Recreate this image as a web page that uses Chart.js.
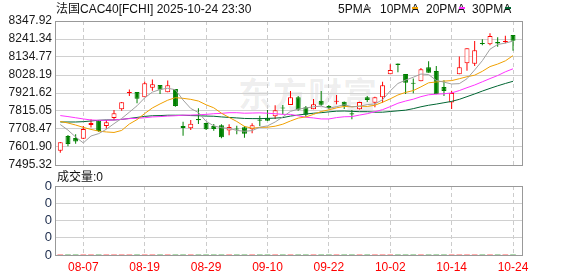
<!DOCTYPE html>
<html>
<head>
<meta charset="utf-8">
<script src="https://cdn.jsdelivr.net/npm/chart.js@4.4.1/dist/chart.umd.min.js"></script>
<style>
  html, body { margin: 0; padding: 0; background: #fff; }
  #wrap { position: relative; width: 578px; height: 276px; overflow: hidden; font-family: "Liberation Sans", "Noto Sans CJK SC", sans-serif; }
  canvas { position: absolute; left: 0; top: 0; }
  .t { position: absolute; white-space: nowrap; font-size: 12px; line-height: 12px; color: #111; }
  .lg { position: absolute; top: 3px; font-family: "Liberation Sans Narrow", "Liberation Sans", sans-serif; font-size: 12px; line-height: 12px; color: #111; }
  .mk { position: absolute; top: 7px; width: 6px; height: 2px; }
  .wm { position: absolute; left: 238px; top: 68px; font-family: "Noto Sans CJK SC", sans-serif; font-size: 34px; font-weight: bold; letter-spacing: 1px; color: rgba(0,0,0,0.07); }
</style>
</head>
<body>
<div id="wrap">
  <div class="wm">东方财富</div>
  <canvas id="main" width="578" height="276"></canvas>
  <canvas id="vol" width="578" height="276"></canvas>
  <div class="t" style="left:56px;top:3px;">法国CAC40[FCHI] 2025-10-24 23:30</div>
  <div class="lg" style="left:338px;">5PMA</div><div class="mk" style="left:365px;background:#a0a0a0;"></div>
  <div class="lg" style="left:380px;">10PMA</div><div class="mk" style="left:412px;background:#f0a000;"></div>
  <div class="lg" style="left:426px;">20PMA</div><div class="mk" style="left:459px;background:#ff33ff;"></div>
  <div class="lg" style="left:472px;">30PMA</div><div class="mk" style="left:505px;background:#006633;"></div>
  <div class="t" style="left:57px;top:171px;">成交量:0</div>
</div>
<script>
// trading days shown, 08-04 .. 10-24
const dates = ['08-04','08-05','08-06','08-07','08-08','08-11','08-12','08-13','08-14','08-15',
  '08-18','08-19','08-20','08-21','08-22','08-25','08-26','08-27','08-28','08-29',
  '09-01','09-02','09-03','09-04','09-05','09-08','09-09','09-10','09-11','09-12',
  '09-15','09-16','09-17','09-18','09-19','09-22','09-23','09-24','09-25','09-26',
  '09-29','09-30','10-01','10-02','10-03','10-06','10-07','10-08','10-09','10-10',
  '10-13','10-14','10-15','10-16','10-17','10-20','10-21','10-22','10-23','10-24'];
const tickDates = ['08-07','08-19','08-29','09-10','09-22','10-02','10-14','10-24'];
const priceTicks = [8347.92, 8241.34, 8134.77, 8028.19, 7921.62, 7815.05, 7708.47, 7601.90, 7495.32];

const open  = [7580,7667,7655,7651,7732,7758,7726,7774,7825,7922, 7927,7896,7953,7969,7926,7945,7726,7713,7767,7744,
               7726,7730,7700,7712,7719,7707,7764,7775,7784,7836, 7851,7896,7837,7825,7876,7845,7870,7870,7801,7825,
               7896,7864,7896,8032,8097,8034,7982,7991,8074,8052, 7957,7866,8032,8098,8095,8218,8210,8224,8224,8265];
const high  = [7632,7673,7677,7726,7766,7762,7762,7821,7868,7943, 7927,7989,8002,7969,7996,7945,7752,7762,7831,7746,
               7738,7736,7736,7728,7726,7742,7787,7821,7849,7851, 7933,7904,7845,7886,7933,7849,7910,7872,7821,7870,
               7904,7900,7988,8092,8097,8034,8008,8070,8109,8081, 7997,7935,8137,8186,8229,8240,8275,8251,8261,8265];
const low   = [7568,7607,7621,7649,7718,7691,7710,7762,7817,7904, 7861,7896,7935,7916,7926,7840,7669,7702,7738,7702,
               7698,7653,7671,7677,7657,7683,7726,7756,7768,7796, 7851,7817,7781,7825,7846,7825,7855,7827,7766,7824,
               7868,7837,7864,8032,8044,7916,7920,7991,8042,7914, 7904,7827,8032,8054,8081,8204,8204,8196,8216,8172];
const close = [7630,7620,7635,7708,7744,7697,7748,7801,7867,7928, 7888,7979,7973,7941,7967,7845,7714,7740,7761,7707,
               7708,7659,7720,7706,7681,7730,7758,7758,7819,7830, 7896,7823,7793,7855,7852,7833,7876,7844,7795,7868,
               7880,7896,7967,8058,8087,7983,7976,8062,8042,7916, 7933,7921,8074,8186,8174,8212,8259,8214,8230,8231];

const ma5  = [7735,7702,7661,7626,7667,7681,7707,7740,7771,7808, 7846,7893,7927,7942,7950,7941,7880,7830,7806,7754,
              7727,7716,7712,7700,7695,7699,7719,7727,7750,7780, 7813,7826,7833,7840,7844,7831,7841,7852,7840,7843,
              7853,7857,7882,7934,7978,7998,8015,8034,8031,7996, 7986,7975,7977,8006,8058,8113,8181,8209,8217,8229];
const ma10 = [7753,7744,7732,7718,7706,7696,7691,7688,7700,7738, 7764,7800,7833,7857,7879,7894,7890,7884,7874,7852,
              7834,7802,7777,7753,7724,7713,7718,7719,7725,7737, 7756,7773,7780,7795,7812,7822,7834,7842,7840,7844,
              7842,7849,7867,7887,7910,7925,7936,7958,7982,7987, 7992,7995,8006,8018,8027,8050,8078,8093,8112,8143];
const ma20 = [7788,7782,7775,7768,7762,7760,7760,7762,7766,7770, 7772,7775,7780,7782,7785,7787,7790,7791,7793,7795,
              7799,7801,7805,7805,7802,7803,7804,7802,7799,7795, 7795,7787,7778,7774,7768,7768,7776,7781,7782,7791,
              7799,7811,7823,7841,7861,7874,7885,7900,7911,7915, 7917,7922,7936,7953,7969,7988,8007,8025,8047,8065];
const ma30 = [7750,7750,7750,7752,7756,7760,7762,7762,7765,7771, 7777,7783,7787,7788,7790,7790,7790,7788,7787,7785,
              7784,7780,7777,7774,7771,7770,7770,7771,7773,7776, 7785,7791,7797,7802,7805,7810,7814,7815,7813,7811,
              7811,7808,7808,7812,7816,7820,7829,7840,7849,7856, 7864,7872,7884,7900,7916,7933,7949,7964,7978,7991];
const volume = [0,0,0,0,0,0,0,0,0,0, 0,0,0,0,0,0,0,0,0,0, 0,0,0,0,0,0,0,0,0,0,
                0,0,0,0,0,0,0,0,0,0, 0,0,0,0,0,0,0,0,0,0, 0,0,0,0,0,0,0,0,0,0];

const UP = '#ff0000', DOWN = '#008000', GRID = '#d0d0d0', FRAME = '#999999';
const tickIdx = tickDates.map(d => dates.indexOf(d));
const xMin = -0.69, xMax = 60.17;
const isUp = i => close[i] >= open[i];

const framePlugin = {
  id: 'frame',
  beforeDatasetsDraw(chart) {
    const { ctx, chartArea: a } = chart;
    ctx.save();
    ctx.strokeStyle = FRAME;
    ctx.lineWidth = 1;
    ctx.strokeRect(Math.round(a.left) + 0.5, Math.round(a.top) + 0.5, Math.round(a.right - a.left), Math.round(a.bottom - a.top));
    ctx.restore();
  }
};

const xScale = (showLabels) => ({
  type: 'linear', min: xMin, max: xMax, offset: false,
  grid: { color: '#cccccc', drawTicks: false, offset: false },
  border: { display: false, dash: [4, 3] },
  afterBuildTicks: s => { s.ticks = tickIdx.map(v => ({ value: v })); },
  afterFit: s => { s.height = showLabels ? 21 : 0; },
  ticks: {
    display: showLabels, autoSkip: false, maxRotation: 0, padding: 5,
    color: '#ff0000', font: { family: 'Liberation Sans', size: 12 },
    callback: v => dates[v]
  }
});

const line = (data, color) => ({
  type: 'line', data: data.map((y, i) => ({ x: i, y })),
  borderColor: color, borderWidth: 1, pointRadius: 0, tension: 0, order: 0
});

new Chart(document.getElementById('main'), {
  type: 'bar',
  data: {
    datasets: [
      line(ma5, '#a0a0a0'),
      line(ma10, '#f0a000'),
      line(ma20, '#ff33ff'),
      line(ma30, '#006633'),
      {
        data: open.map((o, i) => ({ x: i, y: [o, close[i]] })),
        backgroundColor: open.map((o, i) => isUp(i) ? '#ffffff' : DOWN),
        borderColor: open.map((o, i) => isUp(i) ? UP : DOWN),
        borderWidth: 1, borderSkipped: false, inflateAmount: 0,
        barThickness: 5, grouped: false, order: 1
      },
      {
        data: low.map((l, i) => ({ x: i, y: [l, high[i]] })),
        backgroundColor: low.map((l, i) => isUp(i) ? UP : DOWN),
        borderWidth: 0, inflateAmount: 0,
        barThickness: 1, grouped: false, order: 2
      }
    ]
  },
  options: {
    responsive: false, animation: false, events: [],
    layout: { padding: { top: 21, right: 56, bottom: 111, left: 0 } },
    plugins: { legend: { display: false }, tooltip: { enabled: false } },
    scales: {
      x: xScale(false),
      y: {
        min: 7495.32, max: 8347.92,
        grid: { color: GRID, drawTicks: false },
        border: { display: false },
        afterBuildTicks: s => { s.ticks = priceTicks.map(v => ({ value: v })); },
        afterFit: s => { s.width = 55; },
        ticks: {
          autoSkip: false, padding: 3, color: '#1a1a1a',
          font: { family: 'Liberation Sans', size: 12 },
          callback: v => Number(v).toFixed(2)
        }
      }
    }
  },
  plugins: [framePlugin]
});

new Chart(document.getElementById('vol'), {
  type: 'bar',
  data: {
    datasets: [{
      data: volume.map((v, i) => ({ x: i, y: v })),
      backgroundColor: open.map((o, i) => isUp(i) ? UP : DOWN),
      barThickness: 5
    }]
  },
  options: {
    responsive: false, animation: false, events: [],
    layout: { padding: { top: 186, right: 56, bottom: 0, left: 0 } },
    plugins: { legend: { display: false }, tooltip: { enabled: false } },
    scales: {
      x: xScale(true),
      y: {
        min: 0, max: 4,
        grid: { color: GRID, drawTicks: false },
        border: { display: false },
        afterBuildTicks: s => { s.ticks = [0, 1, 2, 3, 4].map(v => ({ value: v })); },
        afterFit: s => { s.width = 55; },
        ticks: {
          autoSkip: false, padding: 3, color: '#1a2a4a',
          font: { family: 'Liberation Sans', size: 13 },
          callback: () => '0'
        }
      }
    }
  },
  plugins: [framePlugin]
});
</script>
</body>
</html>
